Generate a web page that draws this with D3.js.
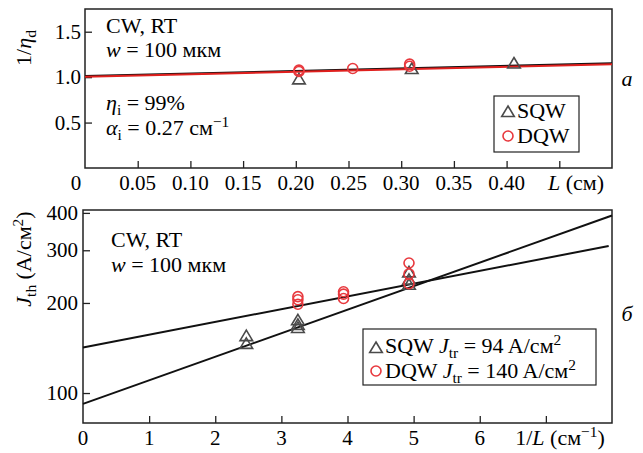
<!DOCTYPE html>
<html><head><meta charset="utf-8">
<script src="https://cdn.jsdelivr.net/npm/d3@7"></script>
<style>svg text{font-family:'Times New Roman';}</style>
</head>
<body style="margin:0">
<svg id="c" width="643" height="453"></svg>
<script>
// ---- Panel a data ----
const topXTicks = [0.05,0.10,0.15,0.20,0.25,0.30,0.35,0.40,0.45];
const topXLabels = [0.05,0.10,0.15,0.20,0.25,0.30,0.35,0.40];
const topYTicks = [0.5,1.0,1.5];
const topSqwL = [0.203,0.310,0.407];
const topSqwV = [0.975,1.09,1.15];
const topDqwL = [0.203,0.203,0.254,0.308,0.308];
const topDqwV = [1.062,1.077,1.095,1.12,1.143];
const topFitL = [0,0.5];
const topFitBlack = [1.012,1.152];
const topFitRed = [1.004,1.142];
// ---- Panel б data ----
const botXTicks = [1,2,3,4,5,6,7];
const botXLabels = [0,1,2,3,4,5,6];
const botYTicks = [100,200,300,400];
const sqwX = [2.47,2.47,3.25,3.25,3.25,4.93,4.93,4.93];
const sqwJ = [155,146,175,169,165,253,239,230];
const dqwX = [3.25,3.25,3.25,3.94,3.94,3.94,4.93,4.93,4.93];
const dqwJ = [210,205,198,218,214,207,272,250,232];
const sqwFitX = [0,8];
const sqwFitJ = [92,392];
const dqwFitX = [0,7.95];
const dqwFitJ = [142,310];

const RED = "#e8383d", GRAY = "#4a4a4a", FS = 21, TFS = 22;
const svg = d3.select("#c");
const SERIF = "'Times New Roman'";

function rich(x, y, parts, opts={}) {
  const fs = opts.fs||TFS;
  const t = svg.append("text").style("font-family", SERIF).attr("x", x).attr("y", y).attr("font-size", fs);
  if (opts.anchor) t.attr("text-anchor", opts.anchor);
  if (opts.transform) t.attr("transform", opts.transform);
  if (parts.length === 1 && !parts[0].i && !parts[0].s) { t.text(parts[0].t); return t; }
  let shift = 0;
  parts.forEach(p => {
    const s = t.append("tspan").text(p.t);
    let target = 0;
    if (p.s === "sub") { target = 5; s.attr("font-size", fs*0.7); }
    if (p.s === "sup") { target = -8; s.attr("font-size", fs*0.7); }
    if (p.i) s.style("font-style", "italic");
    s.attr("dy", target - shift); shift = target;
  });
  return t;
}
function tri(g, cx, cy, r, color) {
  g.append("path").attr("d", `M${cx},${cy-r}L${cx+r*1.05},${cy+r*0.75}L${cx-r*1.05},${cy+r*0.75}Z`)
   .attr("fill","none").attr("stroke",color).attr("stroke-width",1.6);
}
function circ(g, cx, cy, r, color) {
  g.append("circle").attr("cx",cx).attr("cy",cy).attr("r",r).attr("fill","none")
   .attr("stroke",color).attr("stroke-width",1.6);
}
function styleAxis(a){
  a.select(".domain").remove();
  a.selectAll("text").remove();
  a.selectAll("line").attr("stroke","#222").attr("stroke-width",1.3);
}

// ================= Panel a =================
{
  const L=85, R=612, T=9, B=168;
  const x = d3.scaleLinear().domain([0,0.5]).range([L,R]);
  const y = d3.scaleLinear().domain([0,1.75]).range([B,T]);
  const g = svg.append("g");
  g.append("g").attr("transform",`translate(0,${B})`)
    .call(d3.axisBottom(x).tickValues(topXTicks).tickSize(-7)).call(styleAxis);
  g.append("g").attr("transform",`translate(${L},0)`)
    .call(d3.axisLeft(y).tickValues(topYTicks).tickSize(-7)).call(styleAxis);
  g.append("rect").attr("x",L).attr("y",T).attr("width",R-L).attr("height",B-T)
    .attr("fill","none").attr("stroke","#222").attr("stroke-width",1.5);
  topXLabels.forEach(v => rich(x(v), 190, [{t:d3.format(".2f")(v)}], {anchor:"middle", fs:FS}));
  topYTicks.forEach(v => rich(L-4, y(v)+7, [{t:d3.format(".1f")(v)}], {anchor:"end", fs:FS}));
  rich(76, 190, [{t:"0"}], {anchor:"middle", fs:FS});
  rich(576, 190, [{t:"L",i:1},{t:" (см)"}], {anchor:"middle"});
  rich(0, 0, [{t:"1/"},{t:"η",i:1},{t:"d",s:"sub"}], {anchor:"middle", transform:"translate(31,48) rotate(-90)"});
  const line = d3.line().x((d,i)=>x(topFitL[i])).y(d=>y(d));
  g.append("path").attr("d",line(topFitBlack)).attr("fill","none").attr("stroke","#111").attr("stroke-width",2);
  g.append("path").attr("d",line(topFitRed)).attr("fill","none").attr("stroke","#e0201e").attr("stroke-width",2);
  topSqwL.forEach((v,i)=>tri(g, x(v), y(topSqwV[i]), 6, GRAY));
  topDqwL.forEach((v,i)=>circ(g, x(v), y(topDqwV[i]), 5, RED));
  rich(106, 33, [{t:"CW, RT"}]);
  rich(106, 57, [{t:"w",i:1},{t:" = 100 мкм"}]);
  rich(106, 110, [{t:"η",i:1},{t:"i",s:"sub"},{t:" = 99%"}]);
  rich(106, 135, [{t:"α",i:1},{t:"i",s:"sub"},{t:" = 0.27 см"},{t:"−1",s:"sup"}]);
  g.append("rect").attr("x",494).attr("y",96).attr("width",85).attr("height",56)
    .attr("fill","#fff").attr("stroke","#222").attr("stroke-width",1.2);
  tri(g, 508, 112, 6, GRAY);
  circ(g, 508, 136, 5, RED);
}
rich(517, 118, [{t:"SQW"}]);
rich(517, 143, [{t:"DQW"}]);
rich(627, 86, [{t:"a",i:1}], {anchor:"middle"});

// ================= Panel б =================
{
  const L=83, R=612, T=210, B=423;
  const x = d3.scaleLinear().domain([0,8]).range([L,R]);
  const y = d3.scaleLog().domain([79.4,409]).range([B,T]);
  const g = svg.append("g");
  g.append("g").attr("transform",`translate(0,${B})`)
    .call(d3.axisBottom(x).tickValues(botXTicks).tickSize(-7)).call(styleAxis);
  g.append("g").attr("transform",`translate(${L},0)`)
    .call(d3.axisLeft(y).tickValues(botYTicks).tickSize(-7)).call(styleAxis);
  g.append("rect").attr("x",L).attr("y",T).attr("width",R-L).attr("height",B-T)
    .attr("fill","none").attr("stroke","#222").attr("stroke-width",1.5);
  const lineS = d3.line().x((d,i)=>x(sqwFitX[i])).y(d=>y(d));
  const lineD = d3.line().x((d,i)=>x(dqwFitX[i])).y(d=>y(d));
  g.append("path").attr("d",lineS(sqwFitJ)).attr("fill","none").attr("stroke","#111").attr("stroke-width",2);
  g.append("path").attr("d",lineD(dqwFitJ)).attr("fill","none").attr("stroke","#111").attr("stroke-width",2);
  sqwX.forEach((v,i)=>tri(g, x(v), y(sqwJ[i]), 6, GRAY));
  dqwX.forEach((v,i)=>circ(g, x(v), y(dqwJ[i]), 5, RED));
  g.append("rect").attr("x",363).attr("y",329).attr("width",233).attr("height",56)
    .attr("fill","#fff").attr("stroke","#222").attr("stroke-width",1.2);
  tri(g, 376, 348, 6, GRAY);
  circ(g, 376, 371, 5, RED);
  botXLabels.forEach(v => rich(x(v), 445, [{t:String(v)}], {anchor:"middle", fs:FS}));
  botYTicks.forEach(v => rich(L-5, y(v)+7, [{t:d3.format("d")(v)}], {anchor:"end", fs:FS}));
  rich(560, 445, [{t:"1/"},{t:"L",i:1},{t:" (см"},{t:"−1",s:"sup"},{t:")"}], {anchor:"middle"});
  rich(0, 0, [{t:"J",i:1},{t:"th",s:"sub"},{t:" (A/см"},{t:"2",s:"sup"},{t:")"}], {anchor:"middle", transform:"translate(31,259) rotate(-90)"});
  rich(111, 247, [{t:"CW, RT"}]);
  rich(111, 272, [{t:"w",i:1},{t:" = 100 мкм"}]);
  rich(385, 353, [{t:"SQW "},{t:"J",i:1},{t:"tr",s:"sub"},{t:" = 94 A/см"},{t:"2",s:"sup"}]);
  rich(385, 378, [{t:"DQW "},{t:"J",i:1},{t:"tr",s:"sub"},{t:" = 140 A/см"},{t:"2",s:"sup"}]);
  rich(627, 321, [{t:"б",i:1}], {anchor:"middle"});
}
</script></body></html>
